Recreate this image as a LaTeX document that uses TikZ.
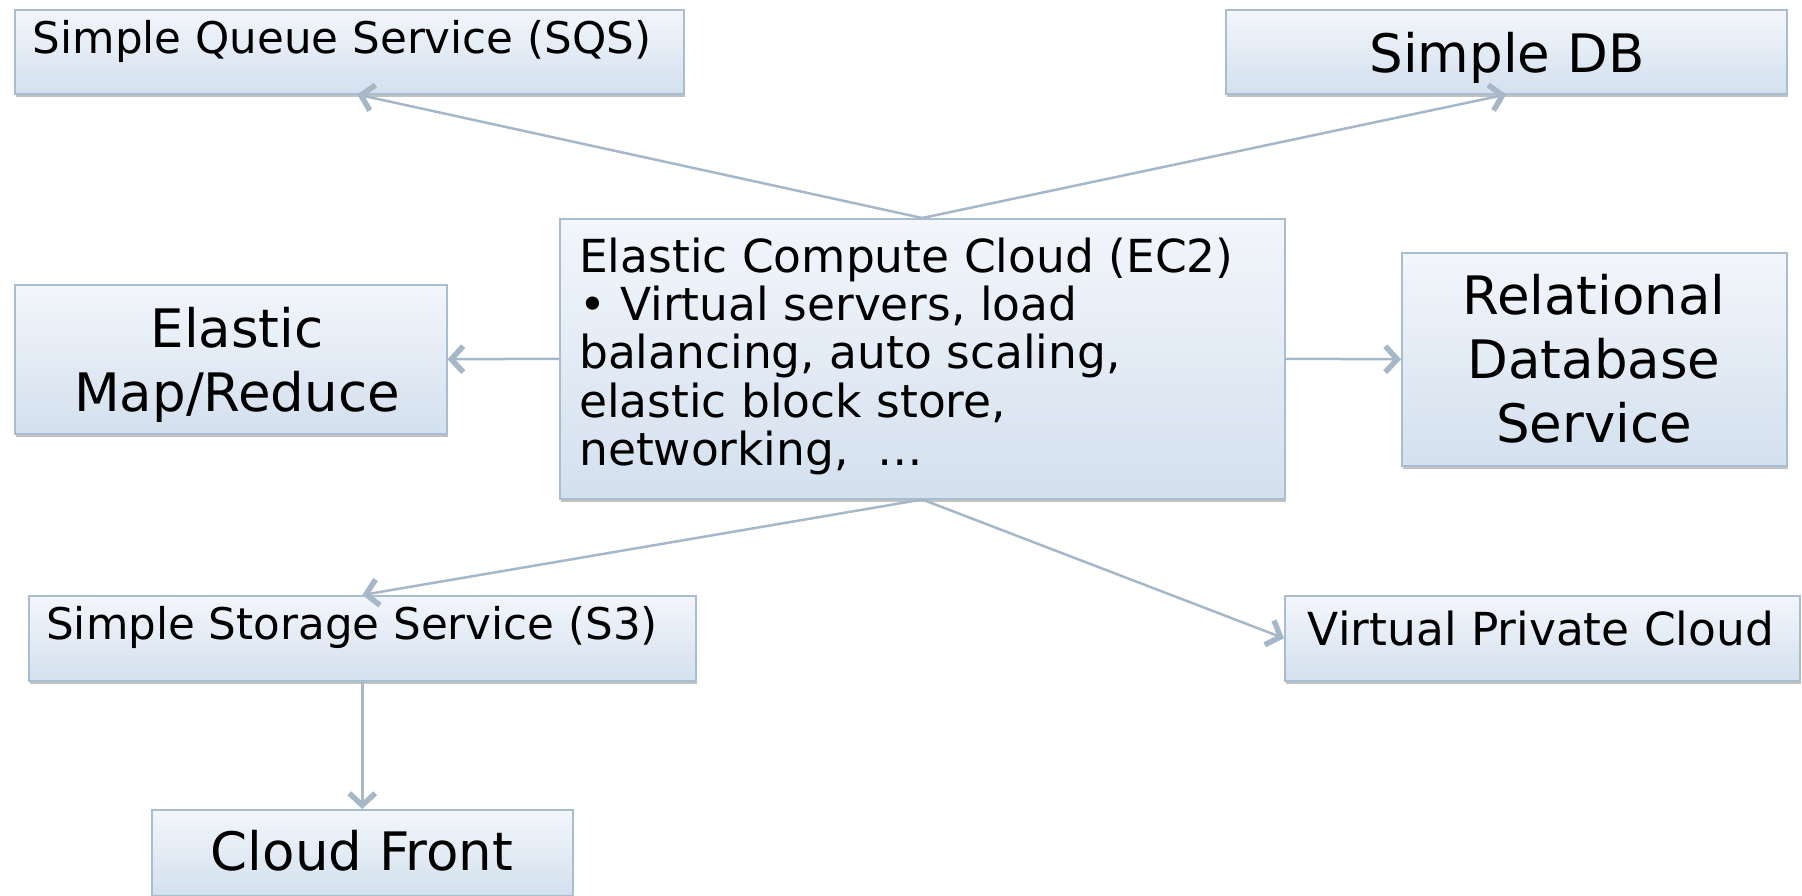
\documentclass[tikz,border=0pt]{standalone}
\usepackage{fontspec}
\setmainfont{DejaVu Sans}
\usetikzlibrary{arrows.meta,shadows,calc}
\definecolor{boxline}{HTML}{A9BDD1}
\definecolor{boxtop}{HTML}{F3F6FB}
\definecolor{boxbot}{HTML}{D3E0EE}
\definecolor{arrowc}{HTML}{A6B7C8}
\tikzset{
  svcbox/.style={draw=boxline, line width=1.5pt, top color=boxtop, bottom color=boxbot,
    inner sep=0pt, anchor=north west,
    drop shadow={shadow xshift=1pt, shadow yshift=-3pt, opacity=0.4, fill=black!60}},
  smalltxt/.style={font=\fontsize{43.6}{48.3}\selectfont, inner sep=0pt},
  midtxt/.style={font=\fontsize{45.5}{48.3}\selectfont, inner sep=0pt},
  bigtxt/.style={font=\fontsize{53}{64}\selectfont, inner sep=0pt},
  conn/.style={draw=arrowc, line width=2.5pt,
    -{Straight Barb[length=12pt,width=26pt,line width=5.5pt]}},
}
\begin{document}
\begin{tikzpicture}[x=1pt,y=-1pt]
\useasboundingbox (0,0) rectangle (1802,895);
% boxes
\node[svcbox, minimum width=669pt, minimum height=84pt] (sqs) at (14,9) {};
\node[svcbox, minimum width=561pt, minimum height=84pt] (sdb) at (1225,9) {};
\node[svcbox, minimum width=725pt, minimum height=280pt] (ec2) at (559,218) {};
\node[svcbox, minimum width=432pt, minimum height=149pt] (emr) at (14,284) {};
\node[svcbox, minimum width=385pt, minimum height=213pt] (rds) at (1401,252) {};
\node[svcbox, minimum width=667pt, minimum height=85pt] (s3) at (28,595) {};
\node[svcbox, minimum width=515pt, minimum height=85pt] (vpc) at (1284,595) {};
\node[svcbox, minimum width=421pt, minimum height=86pt] (cf) at (151,809) {};
% texts
\node[smalltxt, anchor=base] (sqst) at (342,53) {Simple Queue Service (SQS)};
\node[bigtxt, anchor=base] (sdbt) at (1507,72) {Simple DB};
\node[midtxt, anchor=north west, align=left] (ec2t) at (579,237.5)
  {Elastic Compute Cloud (EC2)\\• Virtual servers, load\\balancing, auto scaling,\\elastic block store,\\networking,\ \ …};
\node[bigtxt, anchor=north, align=center] (emrt) at (237,307) {Elastic\\Map/Reduce};
\node[bigtxt, anchor=north, align=center] (rdst) at (1594,274) {Relational\\Database\\Service};
\node[smalltxt, anchor=base] (s3t) at (352,639) {Simple Storage Service (S3)};
\node[midtxt, anchor=base] (vpct) at (1541,645) {Virtual Private Cloud};
\node[bigtxt, anchor=base] (cft) at (362,870) {Cloud Front};
% connectors
\draw[conn] (ec2.north) -- ([xshift=8pt]sqs.south);
\draw[conn] (ec2.north) -- (sdb.south);
\draw[conn] (ec2.west) -- (emr.east);
\draw[conn] (ec2.east) -- (rds.west);
\draw[conn] (ec2.south) -- (s3.north);
\draw[conn] (ec2.south) -- (vpc.west);
\draw[conn] (s3.south) -- (cf.north);
\end{tikzpicture}
\end{document}
